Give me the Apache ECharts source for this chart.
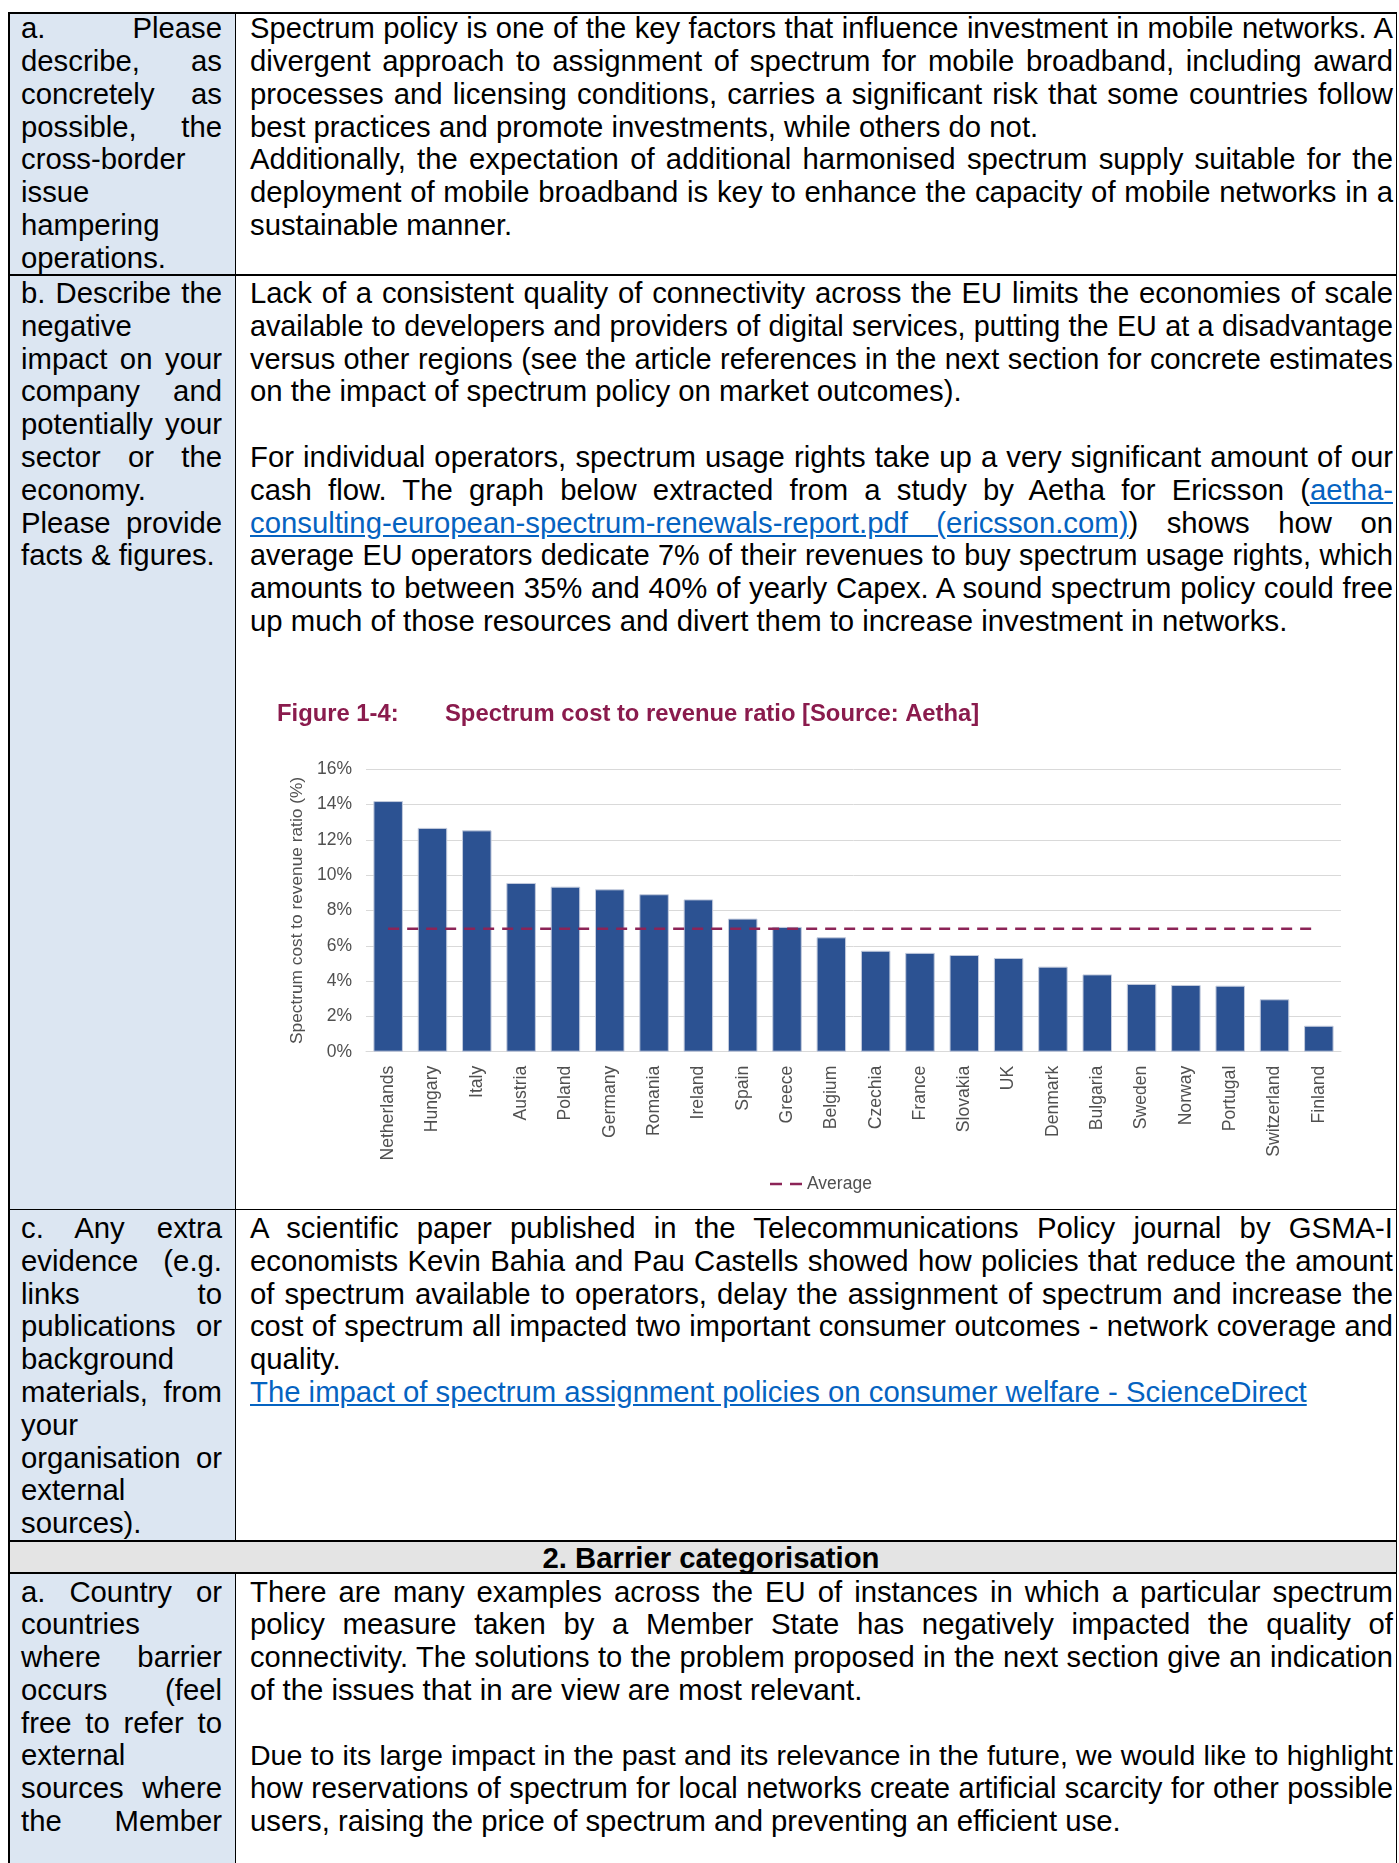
<!DOCTYPE html>
<html>
<head>
<meta charset="utf-8">
<script src="https://cdn.jsdelivr.net/npm/echarts@6/dist/echarts.min.js"></script>
<style>
  html, body { margin: 0; padding: 0; background: #fff; }
  body {
    width: 1399px; height: 1863px; position: relative; overflow: hidden;
    font-family: "Liberation Sans", Arial, sans-serif; font-size: 29.3px; color: #000;
  }
  .bg { position: absolute; }
  .hl { position: absolute; height: 1.5px; background: #000; }
  .vl { position: absolute; width: 1.5px; background: #000; }
  .cell { position: absolute; }
  .cell div { height: 32.8px; line-height: 32.8px; text-align: justify; text-align-last: justify; }
  .cell div.l { text-align: left; text-align-last: left; }
  .left { left: 21px; width: 201px; }
  .right { left: 250px; width: 1143px; }
  a { color: #0563C1; text-decoration: underline; }
  #chart { position: absolute; left: 236px; top: 690px; width: 1160px; height: 515px; }
</style>
</head>
<body>

<!-- cell backgrounds -->
<div class="bg" style="left:8px;top:12px;width:227px;height:1528px;background:#DCE6F2"></div>
<div class="bg" style="left:8px;top:1540px;width:1388px;height:32px;background:#E4E4E4"></div>
<div class="bg" style="left:8px;top:1572px;width:227px;height:291px;background:#DCE6F2"></div>

<!-- table rules -->
<div class="hl" style="left:8px;top:12px;width:1389px"></div>
<div class="hl" style="left:8px;top:274px;width:1389px"></div>
<div class="hl" style="left:8px;top:1208.5px;width:1389px"></div>
<div class="hl" style="left:8px;top:1540px;width:1389px"></div>
<div class="hl" style="left:8px;top:1572px;width:1389px"></div>
<div class="vl" style="left:8px;top:12px;height:1851px"></div>
<div class="vl" style="left:1395.5px;top:12px;height:1851px"></div>
<div class="vl" style="left:234.5px;top:12px;height:1528px"></div>
<div class="vl" style="left:234.5px;top:1572px;height:291px"></div>

<!-- row a -->
<div class="cell left" style="top:12.3px">
  <div>a. Please</div>
  <div>describe, as</div>
  <div>concretely as</div>
  <div>possible, the</div>
  <div class="l">cross-border</div>
  <div class="l">issue</div>
  <div class="l">hampering</div>
  <div class="l">operations.</div>
</div>
<div class="cell right" style="top:12.3px">
  <div>Spectrum policy is one of the key factors that influence investment in mobile networks. A</div>
  <div>divergent approach to assignment of spectrum for mobile broadband, including award</div>
  <div>processes and licensing conditions, carries a significant risk that some countries follow</div>
  <div class="l">best practices and promote investments, while others do not.</div>
  <div>Additionally, the expectation of additional harmonised spectrum supply suitable for the</div>
  <div>deployment of mobile broadband is key to enhance the capacity of mobile networks in a</div>
  <div class="l">sustainable manner.</div>
</div>

<!-- row b -->
<div class="cell left" style="top:277px">
  <div>b. Describe the</div>
  <div class="l">negative</div>
  <div>impact on your</div>
  <div>company and</div>
  <div>potentially your</div>
  <div>sector or the</div>
  <div class="l">economy.</div>
  <div>Please provide</div>
  <div class="l">facts &amp; figures.</div>
</div>
<div class="cell right" style="top:277px">
  <div>Lack of a consistent quality of connectivity across the EU limits the economies of scale</div>
  <div>available to developers and providers of digital services, putting the EU at a disadvantage</div>
  <div>versus other regions (see the article references in the next section for concrete estimates</div>
  <div class="l">on the impact of spectrum policy on market outcomes).</div>
  <div class="l">&nbsp;</div>
  <div>For individual operators, spectrum usage rights take up a very significant amount of our</div>
  <div>cash flow. The graph below extracted from a study by Aetha for Ericsson (<a>aetha-</a></div>
  <div><a>consulting-european-spectrum-renewals-report.pdf (ericsson.com)</a>) shows how on</div>
  <div>average EU operators dedicate 7% of their revenues to buy spectrum usage rights, which</div>
  <div>amounts to between 35% and 40% of yearly Capex. A sound spectrum policy could free</div>
  <div class="l">up much of those resources and divert them to increase investment in networks.</div>
</div>

<div id="chart"></div>

<!-- row c -->
<div class="cell left" style="top:1212px">
  <div>c. Any extra</div>
  <div>evidence (e.g.</div>
  <div>links to</div>
  <div>publications or</div>
  <div class="l">background</div>
  <div>materials, from</div>
  <div class="l">your</div>
  <div>organisation or</div>
  <div class="l">external</div>
  <div class="l">sources).</div>
</div>
<div class="cell right" style="top:1212px">
  <div>A scientific paper published in the Telecommunications Policy journal by GSMA-I</div>
  <div>economists Kevin Bahia and Pau Castells showed how policies that reduce the amount</div>
  <div>of spectrum available to operators, delay the assignment of spectrum and increase the</div>
  <div>cost of spectrum all impacted two important consumer outcomes - network coverage and</div>
  <div class="l">quality.</div>
  <div class="l"><a>The impact of spectrum assignment policies on consumer welfare - ScienceDirect</a></div>
</div>

<!-- header row -->
<div class="cell" style="top:1541.5px;left:17px;width:1388px">
  <div class="l" style="text-align:center;text-align-last:center;font-weight:bold">2. Barrier categorisation</div>
</div>

<!-- row 2a -->
<div class="cell left" style="top:1575.5px">
  <div>a. Country or</div>
  <div class="l">countries</div>
  <div>where barrier</div>
  <div>occurs (feel</div>
  <div>free to refer to</div>
  <div class="l">external</div>
  <div>sources where</div>
  <div>the Member</div>
</div>
<div class="cell right" style="top:1575.5px">
  <div>There are many examples across the EU of instances in which a particular spectrum</div>
  <div>policy measure taken by a Member State has negatively impacted the quality of</div>
  <div>connectivity. The solutions to the problem proposed in the next section give an indication</div>
  <div class="l">of the issues that in are view are most relevant.</div>
  <div class="l">&nbsp;</div>
  <div>Due to its large impact in the past and its relevance in the future, we would like to highlight</div>
  <div>how reservations of spectrum for local networks create artificial scarcity for other possible</div>
  <div class="l">users, raising the price of spectrum and preventing an efficient use.</div>
</div>

<script>
// keep every table line on one row: shrink a line slightly if its natural width is too big
document.querySelectorAll(".cell div").forEach((d) => {
  const oldAlign = d.style.textAlignLast;
  d.style.whiteSpace = "nowrap";
  d.style.textAlignLast = "left";
  d.style.textAlign = "left";
  const r = document.createRange();
  r.selectNodeContents(d);
  const need = r.getBoundingClientRect().width;
  const have = d.clientWidth - 1;
  if (need > have) d.style.fontSize = (29.3 * have / need - 0.1) + "px";
  d.style.whiteSpace = "";
  d.style.textAlignLast = oldAlign;
  d.style.textAlign = "";
});

const COUNTRIES = ["Netherlands", "Hungary", "Italy", "Austria", "Poland", "Germany", "Romania",
  "Ireland", "Spain", "Greece", "Belgium", "Czechia", "France", "Slovakia", "UK", "Denmark",
  "Bulgaria", "Sweden", "Norway", "Portugal", "Switzerland", "Finland"];
// spectrum cost to revenue ratio, %
const RATIO = [14.2, 12.68, 12.54, 9.56, 9.35, 9.2, 8.92, 8.63, 7.54, 7.07, 6.48,
  5.72, 5.6, 5.48, 5.31, 4.82, 4.38, 3.84, 3.78, 3.74, 2.97, 1.47];
const AVERAGE = [6.96, 6.96, 6.96, 6.96, 6.96, 6.96, 6.96, 6.96, 6.96, 6.96, 6.96,
  6.96, 6.96, 6.96, 6.96, 6.96, 6.96, 6.96, 6.96, 6.96, 6.96, 6.96];
const Y_MIN = 0, Y_MAX = 16, Y_STEP = 2;

const chart = echarts.init(document.getElementById("chart"));
const grey = "#505050";
const maroon = "#8C2457";

chart.setOption({
  animation: false,
  textStyle: { fontFamily: "Liberation Sans, Arial, sans-serif" },
  title: [
    {
      text: "Figure 1-4:", left: 41, top: 12, padding: 0,
      textStyle: { fontSize: 23.8, fontWeight: "bold", color: "#8A1B4D" },
    },
    {
      text: "Spectrum cost to revenue ratio [Source: Aetha]", left: 209, top: 12, padding: 0,
      textStyle: { fontSize: 23.8, fontWeight: "bold", color: "#8A1B4D" },
    },
  ],
  legend: {
    data: ["Average"],
    left: 529,
    top: 480,
    icon: "path://M0,0h12v2.5h-12z M20,0h12v2.5h-12z",
    itemWidth: 32,
    itemHeight: 2.5,
    textStyle: { fontSize: 17.5, color: grey },
  },
  grid: { left: 130, right: 55, top: 79.3, bottom: 153.3 },
  xAxis: {
    type: "category",
    data: COUNTRIES,
    axisLine: { lineStyle: { color: "#d9d9d9" } },
    axisTick: { length: 5, lineStyle: { color: "#d9d9d9" } },
    axisLabel: { rotate: 90, fontSize: 17.6, color: grey, margin: 14 },
  },
  yAxis: {
    type: "value",
    min: Y_MIN,
    max: Y_MAX,
    interval: Y_STEP,
    name: "Spectrum cost to revenue ratio (%)",
    nameLocation: "middle",
    nameGap: 55,
    nameTextStyle: { fontSize: 17.3, color: grey },
    axisLine: { show: false },
    axisTick: { show: false },
    axisLabel: { fontSize: 17.5, color: grey, margin: 14, formatter: "{value}%" },
    splitLine: { lineStyle: { color: "#d9d9d9" } },
  },
  series: [
    {
      name: "Ratio",
      type: "bar",
      data: RATIO,
      barWidth: 29.5,
      itemStyle: { color: "#2C5292", borderColor: "#c3cbdd", borderWidth: 1 },
    },
    {
      name: "Average",
      type: "line",
      data: AVERAGE,
      symbol: "none",
      z: 5,
      lineStyle: { color: maroon, width: 2.5, type: [11, 8] },
      itemStyle: { color: maroon },
    },
  ],
});
</script>
</body>
</html>
